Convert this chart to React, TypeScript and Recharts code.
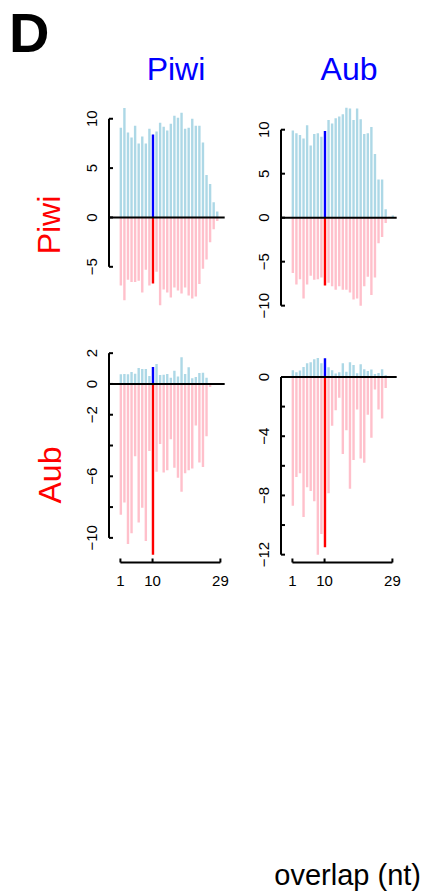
import { Bar, BarChart, Cell, ReferenceLine, XAxis, YAxis } from 'recharts'

// overlap length (nt)
const overlap = [1, 2, 3, 4, 5, 6, 7, 8, 9, 10, 11, 12, 13, 14, 15, 16, 17, 18, 19, 20, 21, 22, 23, 24, 25, 26, 27, 28, 29]

// row Piwi / column Piwi
const piwiPiwiUp = [9.1, 11.1, 8.6, 8.1, 9.3, 7.5, 8.2, 7.5, 9.0, 8.4, 8.7, 9.6, 9.2, 8.8, 9.5, 10.3, 10.1, 10.6, 9.0, 9.1, 10.0, 9.3, 9.3, 7.6, 4.3, 3.4, 1.55, 0.6, 0]
const piwiPiwiDown = [-6.9, -8.4, -6.3, -6.55, -6.55, -6.4, -7.6, -5.3, -6.9, -6.7, -5.5, -8.9, -7.3, -7.6, -8.1, -7.1, -7.4, -7.7, -7.1, -7.9, -8.2, -8.0, -6.75, -5.2, -4.25, -2.5, -1.2, -0.35, 0]

// row Piwi / column Aub
const piwiAubUp = [9.9, 9.6, 9.4, 9.0, 10.5, 8.2, 9.5, 9.6, 9.2, 9.85, 11.1, 10.7, 11.3, 11.5, 11.75, 12.5, 12.4, 11.1, 12.4, 11.2, 9.5, 9.6, 10.3, 7.25, 4.35, 4.35, 0.95, 0.1, 0.25]
const piwiAubDown = [-6.3, -7.6, -7.0, -9.2, -7.6, -6.6, -7.05, -7.0, -6.8, -7.7, -7.4, -7.8, -8.2, -7.8, -8.2, -8.2, -8.5, -9.3, -9.2, -10.0, -7.8, -6.7, -8.8, -6.8, -2.9, -2.2, -0.6, 0, 0]

// row Aub / column Piwi
const aubPiwiUp = [0.63, 0.65, 0.63, 0.78, 0.67, 1.04, 0.97, 0.97, 0.52, 1.1, 1.3, 0.58, 0.6, 0.65, 0.41, 0.86, 0.48, 1.73, 0.65, 1.08, 0.37, 0.45, 0.71, 0.73, 0.41, 0, 0, 0, 0]
const aubPiwiDown = [-8.5, -7.7, -10.4, -9.7, -4.7, -9.0, -8.05, -10.2, -4.35, -11.1, -5.7, -3.9, -5.75, -5.6, -3.6, -5.45, -6.1, -7.0, -5.8, -5.6, -5.5, -2.7, -5.1, -5.4, -3.4, -0.2, 0, 0, 0]

// row Aub / column Aub
const aubAubUp = [0.45, 0.32, 0.43, 0.68, 0.92, 0.99, 1.2, 1.28, 0.92, 1.26, 0.65, 0.45, 0.23, 0.32, 0.92, 0.36, 0.99, 0.81, 0.25, 0.86, 0.52, 0.41, 0.5, 0.2, 0.27, 0.52, 0.14, 0.05, 0.05]
const aubAubDown = [-8.7, -6.75, -6.5, -9.45, -7.45, -7.7, -8.4, -12.0, -10.6, -11.5, -7.85, -3.3, -2.25, -1.4, -5.2, -3.6, -7.55, -5.6, -2.2, -5.5, -5.8, -2.55, -4.1, -0.85, -2.2, -2.8, -0.75, 0, 0]

const xTicks = [1, 10, 29]
const highlight = 10

const FONT = '"Liberation Sans", Arial, Helvetica, sans-serif'
const PLOT_W = 115.7
const PLOT_H = 213.5
const X_DOMAIN: [number, number] = [-2.2, 30.2]

const minus = (v: number) => (v < 0 ? '\u2212' + Math.abs(v) : String(v))

type PanelProps = {
  left: number
  top: number
  up: number[]
  down: number[]
  domain: [number, number]
  ticks: number[]
  labels: number[]
  showX: boolean
}

const Panel = ({ left, top, up, down, domain, ticks, labels, showX }: PanelProps) => {
  const data = overlap.map((x, i) => ({ x, up: up[i], down: down[i] }))
  const w = PLOT_W + 60
  const h = PLOT_H + 10 + (showX ? 50 : 10)

  const yTick = (p: any) => {
    const v = p.payload.value
    return (
      <g>
        <line x1={p.x} x2={p.x + 4} y1={p.y} y2={p.y} stroke="#000" strokeWidth={2} />
        {labels.includes(v) && (
          <text
            x={p.x - 12}
            y={p.y}
            transform={`rotate(-90 ${p.x - 12} ${p.y})`}
            textAnchor="middle"
            fontSize={15}
            fontFamily={FONT}
            fill="#000"
          >
            {minus(v)}
          </text>
        )}
      </g>
    )
  }

  const xTick = (p: any) => (
    <g>
      <line x1={p.x} x2={p.x} y1={p.y} y2={p.y - 4} stroke="#000" strokeWidth={2} />
      <text x={p.x} y={p.y + 24} textAnchor="middle" fontSize={15} fontFamily={FONT} fill="#000">
        {p.payload.value}
      </text>
    </g>
  )

  return (
    <div style={{ position: 'absolute', left: left - 50, top: top - 10 }}>
      <BarChart
        width={w}
        height={h}
        data={data}
        stackOffset="sign"
        barSize={2.4}
        margin={{ top: 10, right: 10, left: 10, bottom: showX ? 20 : 10 }}
      >
        <XAxis
          dataKey="x"
          type="number"
          domain={X_DOMAIN}
          allowDataOverflow
          hide={!showX}
          ticks={xTicks}
          interval={0}
          axisLine={false}
          tickLine={false}
          tickSize={0}
          tickMargin={0}
          height={30}
          tick={xTick}
        />
        <YAxis
          type="number"
          domain={domain}
          allowDataOverflow
          ticks={ticks}
          interval={0}
          width={40}
          axisLine={false}
          tickLine={false}
          tickSize={0}
          tickMargin={0}
          tick={yTick}
        />
        <Bar dataKey="up" stackId="s" isAnimationActive={false}>
          {data.map((d) => (
            <Cell key={d.x} fill={d.x === highlight ? '#0000FF' : '#ADD8E6'} />
          ))}
        </Bar>
        <Bar dataKey="down" stackId="s" isAnimationActive={false}>
          {data.map((d) => (
            <Cell key={d.x} fill={d.x === highlight ? '#FF0000' : '#FFC0CB'} />
          ))}
        </Bar>
        <ReferenceLine y={0} stroke="#000" strokeWidth={2} />
        <ReferenceLine
          segment={[
            { x: X_DOMAIN[0], y: ticks[0] },
            { x: X_DOMAIN[0], y: ticks[ticks.length - 1] },
          ]}
          stroke="#000"
          strokeWidth={2}
          ifOverflow="visible"
        />
        {showX && (
          <ReferenceLine
            segment={[
              { x: xTicks[0], y: domain[0] },
              { x: xTicks[xTicks.length - 1], y: domain[0] },
            ]}
            stroke="#000"
            strokeWidth={2}
            ifOverflow="visible"
          />
        )}
      </BarChart>
    </div>
  )
}

const App = () => {
  return (
    <div style={{ position: 'absolute', left: 0, top: 0, width: 427, height: 894, background: '#fff' }}>
      <svg width={427} height={894} style={{ position: 'absolute', left: 0, top: 0 }}>
        <text x={9} y={52} fontSize={56} fontWeight="bold" fontFamily={FONT} fill="#000">
          D
        </text>
        <text x={176} y={79.5} fontSize={32} textAnchor="middle" fontFamily={FONT} fill="#0000FF">
          Piwi
        </text>
        <text x={349} y={79.5} fontSize={32} textAnchor="middle" fontFamily={FONT} fill="#0000FF">
          Aub
        </text>
        <text
          x={60}
          y={225}
          transform="rotate(-90 60 225)"
          fontSize={32}
          textAnchor="middle"
          fontFamily={FONT}
          fill="#FF0000"
        >
          Piwi
        </text>
        <text
          x={60.5}
          y={475}
          transform="rotate(-90 60.5 475)"
          fontSize={32}
          textAnchor="middle"
          fontFamily={FONT}
          fill="#FF0000"
        >
          Aub
        </text>
        <text x={421} y={885} fontSize={29} textAnchor="end" fontFamily={FONT} fill="#000">
          overlap (nt)
        </text>
      </svg>
      <Panel left={108.6} top={100} up={piwiPiwiUp} down={piwiPiwiDown} domain={[-9.73, 11.9]} ticks={[-5, 0, 5, 10]} labels={[-5, 0, 5, 10]} showX={false} />
      <Panel left={281.2} top={100} up={piwiAubUp} down={piwiAubDown} domain={[-10.89, 13.375]} ticks={[-10, -5, 0, 5, 10]} labels={[-10, -5, 0, 5, 10]} showX={false} />
      <Panel left={108.6} top={349.3} up={aubPiwiUp} down={aubPiwiDown} domain={[-11.6, 2.27]} ticks={[-10, -8, -6, -4, -2, 0, 2]} labels={[-10, -6, -2, 0, 2]} showX={true} />
      <Panel left={281.2} top={349.3} up={aubAubUp} down={aubAubDown} domain={[-12.53, 1.89]} ticks={[-12, -10, -8, -6, -4, -2, 0]} labels={[-12, -8, -4, 0]} showX={true} />
    </div>
  )
}

export default App
